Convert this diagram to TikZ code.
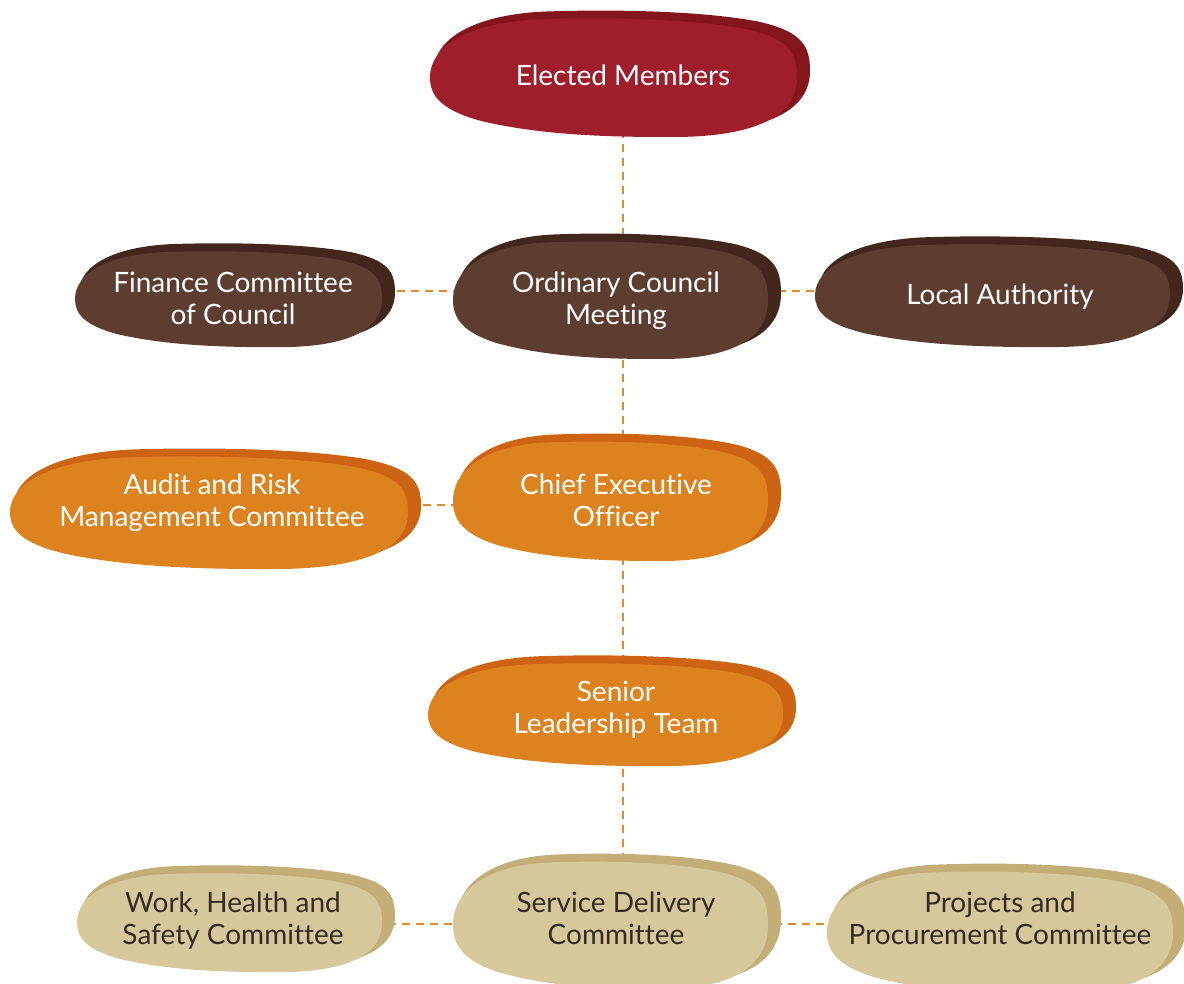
\documentclass[tikz,border=0pt]{standalone}
\usepackage{fontspec}
\setmainfont[Ligatures=NoCommon]{Lato}
\usetikzlibrary{backgrounds}
\definecolor{emfill}{HTML}{9E1F2B}
\definecolor{emshade}{HTML}{84151D}
\definecolor{brfill}{HTML}{5E3D31}
\definecolor{brshade}{HTML}{43271D}
\definecolor{orfill}{HTML}{DC8320}
\definecolor{orshade}{HTML}{CC6414}
\definecolor{tnfill}{HTML}{D7C89B}
\definecolor{tnshade}{HTML}{C3AE78}
\definecolor{tntext}{HTML}{352B26}
\definecolor{connc}{HTML}{DE8A2E}
\newcommand\pebble[5]{%
  \pgfmathsetmacro\pbx{#1}\pgfmathsetmacro\pby{#2}%
  \pgfmathsetmacro\pbw{#3-(#1)}\pgfmathsetmacro\pbh{#4-(#2)}%
  \fill[#5] ({\pbx},{\pby+0.5*\pbh})
    .. controls ({\pbx},{\pby+0.22*\pbh}) and ({\pbx+0.12*\pbw},{\pby+0.04*\pbh}) .. ({\pbx+0.3*\pbw},{\pby+0.02*\pbh})
    .. controls ({\pbx+0.5*\pbw},{\pby}) and ({\pbx+0.72*\pbw},{\pby+0.02*\pbh}) .. ({\pbx+0.86*\pbw},{\pby+0.1*\pbh})
    .. controls ({\pbx+0.98*\pbw},{\pby+0.18*\pbh}) and ({\pbx+1.0*\pbw},{\pby+0.3*\pbh}) .. ({\pbx+\pbw},{\pby+0.5*\pbh})
    .. controls ({\pbx+1.0*\pbw},{\pby+0.8*\pbh}) and ({\pbx+0.9*\pbw},{\pby+0.97*\pbh}) .. ({\pbx+0.7*\pbw},{\pby+0.99*\pbh})
    .. controls ({\pbx+0.45*\pbw},{\pby+1.0*\pbh}) and ({\pbx+0.28*\pbw},{\pby+0.96*\pbh}) .. ({\pbx+0.14*\pbw},{\pby+0.86*\pbh})
    .. controls ({\pbx+0.03*\pbw},{\pby+0.77*\pbh}) and ({\pbx},{\pby+0.65*\pbh}) .. ({\pbx},{\pby+0.5*\pbh}) -- cycle;
}
\newcommand\orgblob[6]{%
  \pebble{#1+4}{#2-8}{#3+13}{#4-5}{#6}%
  \pebble{#1}{#2}{#3}{#4}{#5}%
}
\tikzset{
  lbl/.style={align=center, font=\fontsize{14}{16}\selectfont, inner sep=1pt},
  lightlbl/.style={lbl, text=white},
  darklbl/.style={lbl, text=tntext},
  conn/.style={draw=connc, line width=1pt, dash pattern=on 4pt off 3pt}
}
\begin{document}
\begin{tikzpicture}[x=0.5pt,y=-0.5pt]
\useasboundingbox (0,0) rectangle (1184,984);
% blobs
\orgblob{430}{17}{797}{138}{emfill}{emshade}
\orgblob{75}{250}{382}{348}{brfill}{brshade}
\orgblob{453}{240}{768}{360}{brfill}{brshade}
\orgblob{815}{243}{1170}{348}{brfill}{brshade}
\orgblob{10}{455}{408}{570}{orfill}{orshade}
\orgblob{453}{440}{768}{562}{orfill}{orshade}
\orgblob{428}{662}{783}{767}{orfill}{orshade}
\orgblob{77}{872}{382}{973}{tnfill}{tnshade}
\orgblob{453}{860}{768}{990}{tnfill}{tnshade}
\orgblob{827}{870}{1173}{995}{tnfill}{tnshade}
% labels
\node[lightlbl] (em) at (623,75) {Elected Members};
\node[lightlbl] (fin) at (233,298) {Finance Committee\\of Council};
\node[lightlbl] (ocm) at (616,301) {Ordinary Council\\Meeting};
\node[lightlbl] (la) at (1000,297) {Local Authority};
\node[lightlbl] (arm) at (212,503) {Audit and Risk\\Management Committee};
\node[lightlbl] (ceo) at (616,500) {Chief Executive\\Officer};
\node[lightlbl] (slt) at (616,710) {Senior\\Leadership Team};
\node[darklbl] (whs) at (233,921) {Work, Health and\\Safety Committee};
\node[darklbl] (sdc) at (616,918) {Service Delivery\\Committee};
\node[darklbl] (ppc) at (1000,918) {Projects and\\Procurement Committee};
\coordinate (spine) at (623,0);
\coordinate (r1) at (0,291);
\coordinate (r2) at (0,505);
\coordinate (r3) at (0,924);
\begin{pgfonlayer}{background}
\draw[conn] (em.south -| spine) -- (ocm.north -| spine);
\draw[conn] (ocm.south -| spine) -- (ceo.north -| spine);
\draw[conn] (ceo.south -| spine) -- (slt.north -| spine);
\draw[conn] (slt.south -| spine) -- (sdc.north -| spine);
\draw[conn] (fin.east |- r1) -- (ocm.west |- r1);
\draw[conn] (ocm.east |- r1) -- (la.west |- r1);
\draw[conn] (arm.east |- r2) -- (ceo.west |- r2);
\draw[conn] (whs.east |- r3) -- (sdc.west |- r3);
\draw[conn] (sdc.east |- r3) -- (ppc.west |- r3);
\end{pgfonlayer}
\end{tikzpicture}
\end{document}
